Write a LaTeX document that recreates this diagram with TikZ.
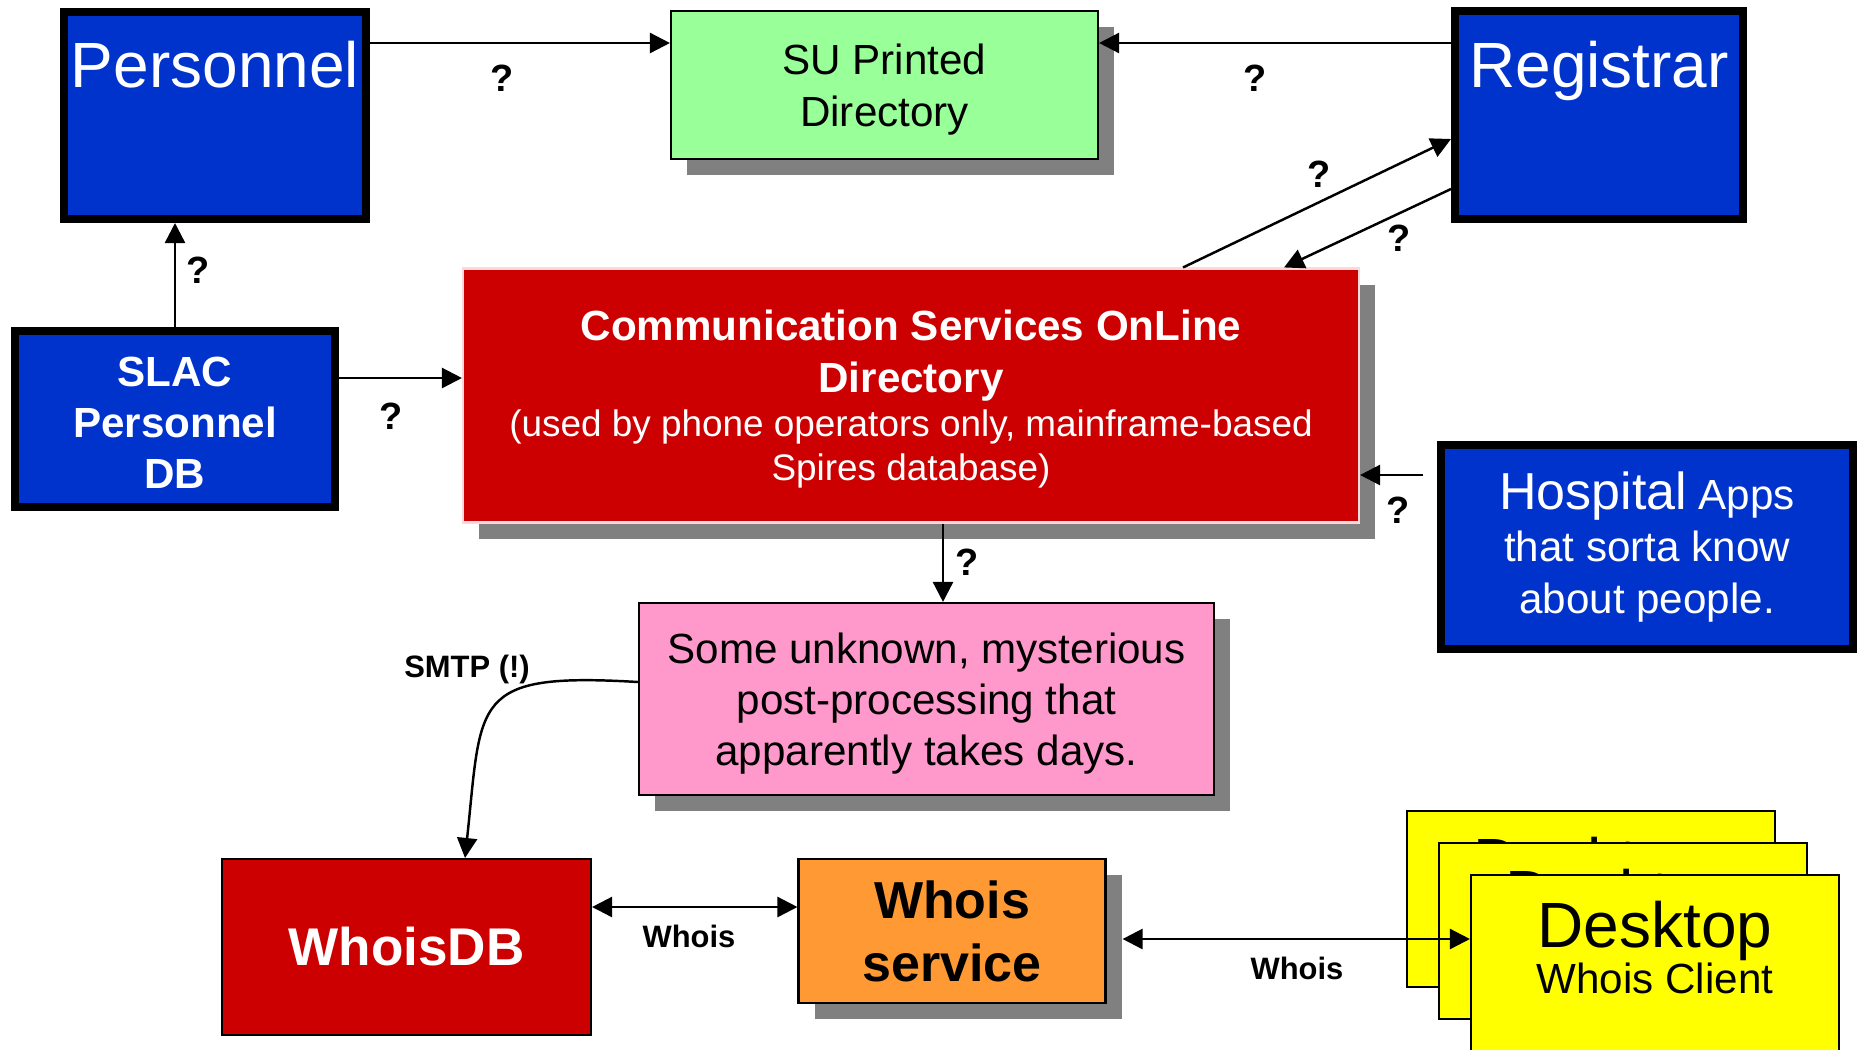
\documentclass[tikz,border=0pt]{standalone}
\usepackage{fontspec}
\setmainfont{Liberation Sans}
\usetikzlibrary{arrows.meta,shadows,calc}
\definecolor{blu}{HTML}{0033CC}
\definecolor{lgreen}{HTML}{99FF99}
\definecolor{dred}{HTML}{CC0000}
\definecolor{pnk}{HTML}{FF99CC}
\definecolor{orng}{HTML}{FF9933}
\definecolor{yel}{HTML}{FFFF00}
\definecolor{shade}{HTML}{808080}
\newcommand{\fsz}[2]{\fontsize{#1pt}{#2pt}\selectfont}

\begin{document}
\begin{tikzpicture}[x=0.1mm, y=-0.1mm, inner sep=0pt, >={Triangle[length=2mm,width=2mm]},
  every node/.style={align=center},
  thickbox/.style={draw=black, line width=0.8mm, fill=blu, text=white},
  thinbox/.style={draw=black, line width=0.6pt},
  shbox/.style={thinbox, drop shadow={shadow xshift=1.6mm, shadow yshift=-1.6mm, fill=shade, opacity=1}},
  qmark/.style={font=\bfseries\fsz{10.8}{13}},
  lbl/.style={font=\bfseries\fsz{8.8}{10.6}},
  conn/.style={line width=0.7pt}]
\useasboundingbox (0,0) rectangle (1860,1049);
\clip (0,0) rectangle (1860,1049);

% top row
\node[thickbox, minimum width=30.2mm, minimum height=20.7mm] (pers) at (215,115.5) {};
\node[text=white, font=\fsz{18.2}{22}, anchor=base] (perst) at (215,87) {Personnel};
\node[shbox, fill=lgreen, minimum width=42.7mm, minimum height=14.8mm, font=\fsz{12}{14.8}, text depth=0pt] (su) at (884.5,85) {SU Printed\\Directory};
\node[thickbox, minimum width=28.8mm, minimum height=20.8mm] (reg) at (1599,115) {};
\node[text=white, font=\fsz{18.2}{22}, anchor=base] (regt) at (1599,87) {Registrar};

% middle row
\node[thickbox, minimum width=32mm, minimum height=17.6mm] (slac) at (175,419) {};
\node[text=white, font=\bfseries\fsz{12}{14.5}] (slact) at (175,423) {SLAC\\Personnel\\DB};
\node[shbox, draw=red!15, fill=dred, text=white, minimum width=89.6mm, minimum height=25.4mm, font=\fsz{12}{14.8}, text depth=0pt] (csol) at (911,395.5)
  {\bfseries Communication Services OnLine\\\bfseries Directory\\[-2.3pt]\fsz{10.5}{12.3}(used by phone operators only, mainframe-based\\[-2.2pt]\fsz{10.5}{12.3}Spires database)};
\node[thickbox, minimum width=41.2mm, minimum height=20.4mm, font=\fsz{12}{14.8}] (hosp) at (1647,547) {{\fsz{14.8}{14.8}Hospital} Apps\\that sorta know\\about people.};
\node[shbox, fill=pnk, minimum width=57.5mm, minimum height=19.2mm, font=\fsz{12}{14.5}, text depth=-0.8pt] (post) at (926.5,699) {Some unknown, mysterious\\post-processing that\\apparently takes days.};

% bottom row
\node[thinbox, fill=dred, text=white, minimum width=36.9mm, minimum height=17.6mm, font=\bfseries\fsz{15.1}{18}] (wdb) at (406.5,947) {WhoisDB};
\node[shbox, fill=orng, minimum width=30.7mm, minimum height=14.4mm, font=\bfseries\fsz{14.8}{17.9}] (wsvc) at (952,931) {Whois\\service};
\foreach \i/\x/\y in {1/1591/899, 2/1623/931, 3/1655/963} {
  \node[thinbox, fill=yel, minimum width=36.8mm, minimum height=17.6mm] (dt\i) at (\x,\y) {};
  \node[anchor=north, font=\fsz{12}{13.1}] (dtt\i) at ($(dt\i.north)+(0,26)$) {{\fsz{18.2}{13.1}Desktop}\\Whois Client};
}

% connectors
\draw[conn, ->] (pers.east |- 0,43) -- (su.west |- 0,43);
\draw[conn, ->] (reg.west |- 0,43) -- (su.east |- 0,43);
\draw[conn, ->] (csol.north -| 1183,0) -- (reg.west |- 0,139);
\draw[conn, ->] (reg.west |- 0,189) -- (csol.north -| 1284,0);
\draw[conn, ->] (slac.north) -- (pers.south -| slac.north);
\draw[conn, ->] (slac.east |- 0,378) -- (csol.west |- 0,378);
\draw[conn, ->] ($(hosp.west |- 0,475)+(-14,0)$) -- (csol.east |- 0,475);
\draw[conn, ->] (csol.south -| 943,0) -- (post.north -| 943,0);
\draw[conn, ->] (post.west |- 0,682) .. controls (470,672) and (482,700) .. (wdb.north -| 465,0);
\draw[conn, <->] (wdb.east |- 0,907) -- (wsvc.west |- 0,907);
\draw[conn, <->] ($(wsvc.east |- 0,939)+(16,0)$) -- (dt3.west |- 0,939);

% labels
\node[qmark] (q1) at (502,78) {?};
\node[qmark] (q2) at (1255,78) {?};
\node[qmark] (q3) at (1319,174) {?};
\node[qmark] (q4) at (1399,238) {?};
\node[qmark] (q5) at (198,270) {?};
\node[qmark] (q6) at (391,416) {?};
\node[qmark] (q7) at (1398,510) {?};
\node[qmark] (q8) at (967,562) {?};
\node[lbl] (smtp) at (467,669) {SMTP (!)};
\node[lbl] (w1) at (689,936) {Whois};
\node[lbl] (w2) at (1297,968) {Whois};
\end{tikzpicture}
\end{document}
